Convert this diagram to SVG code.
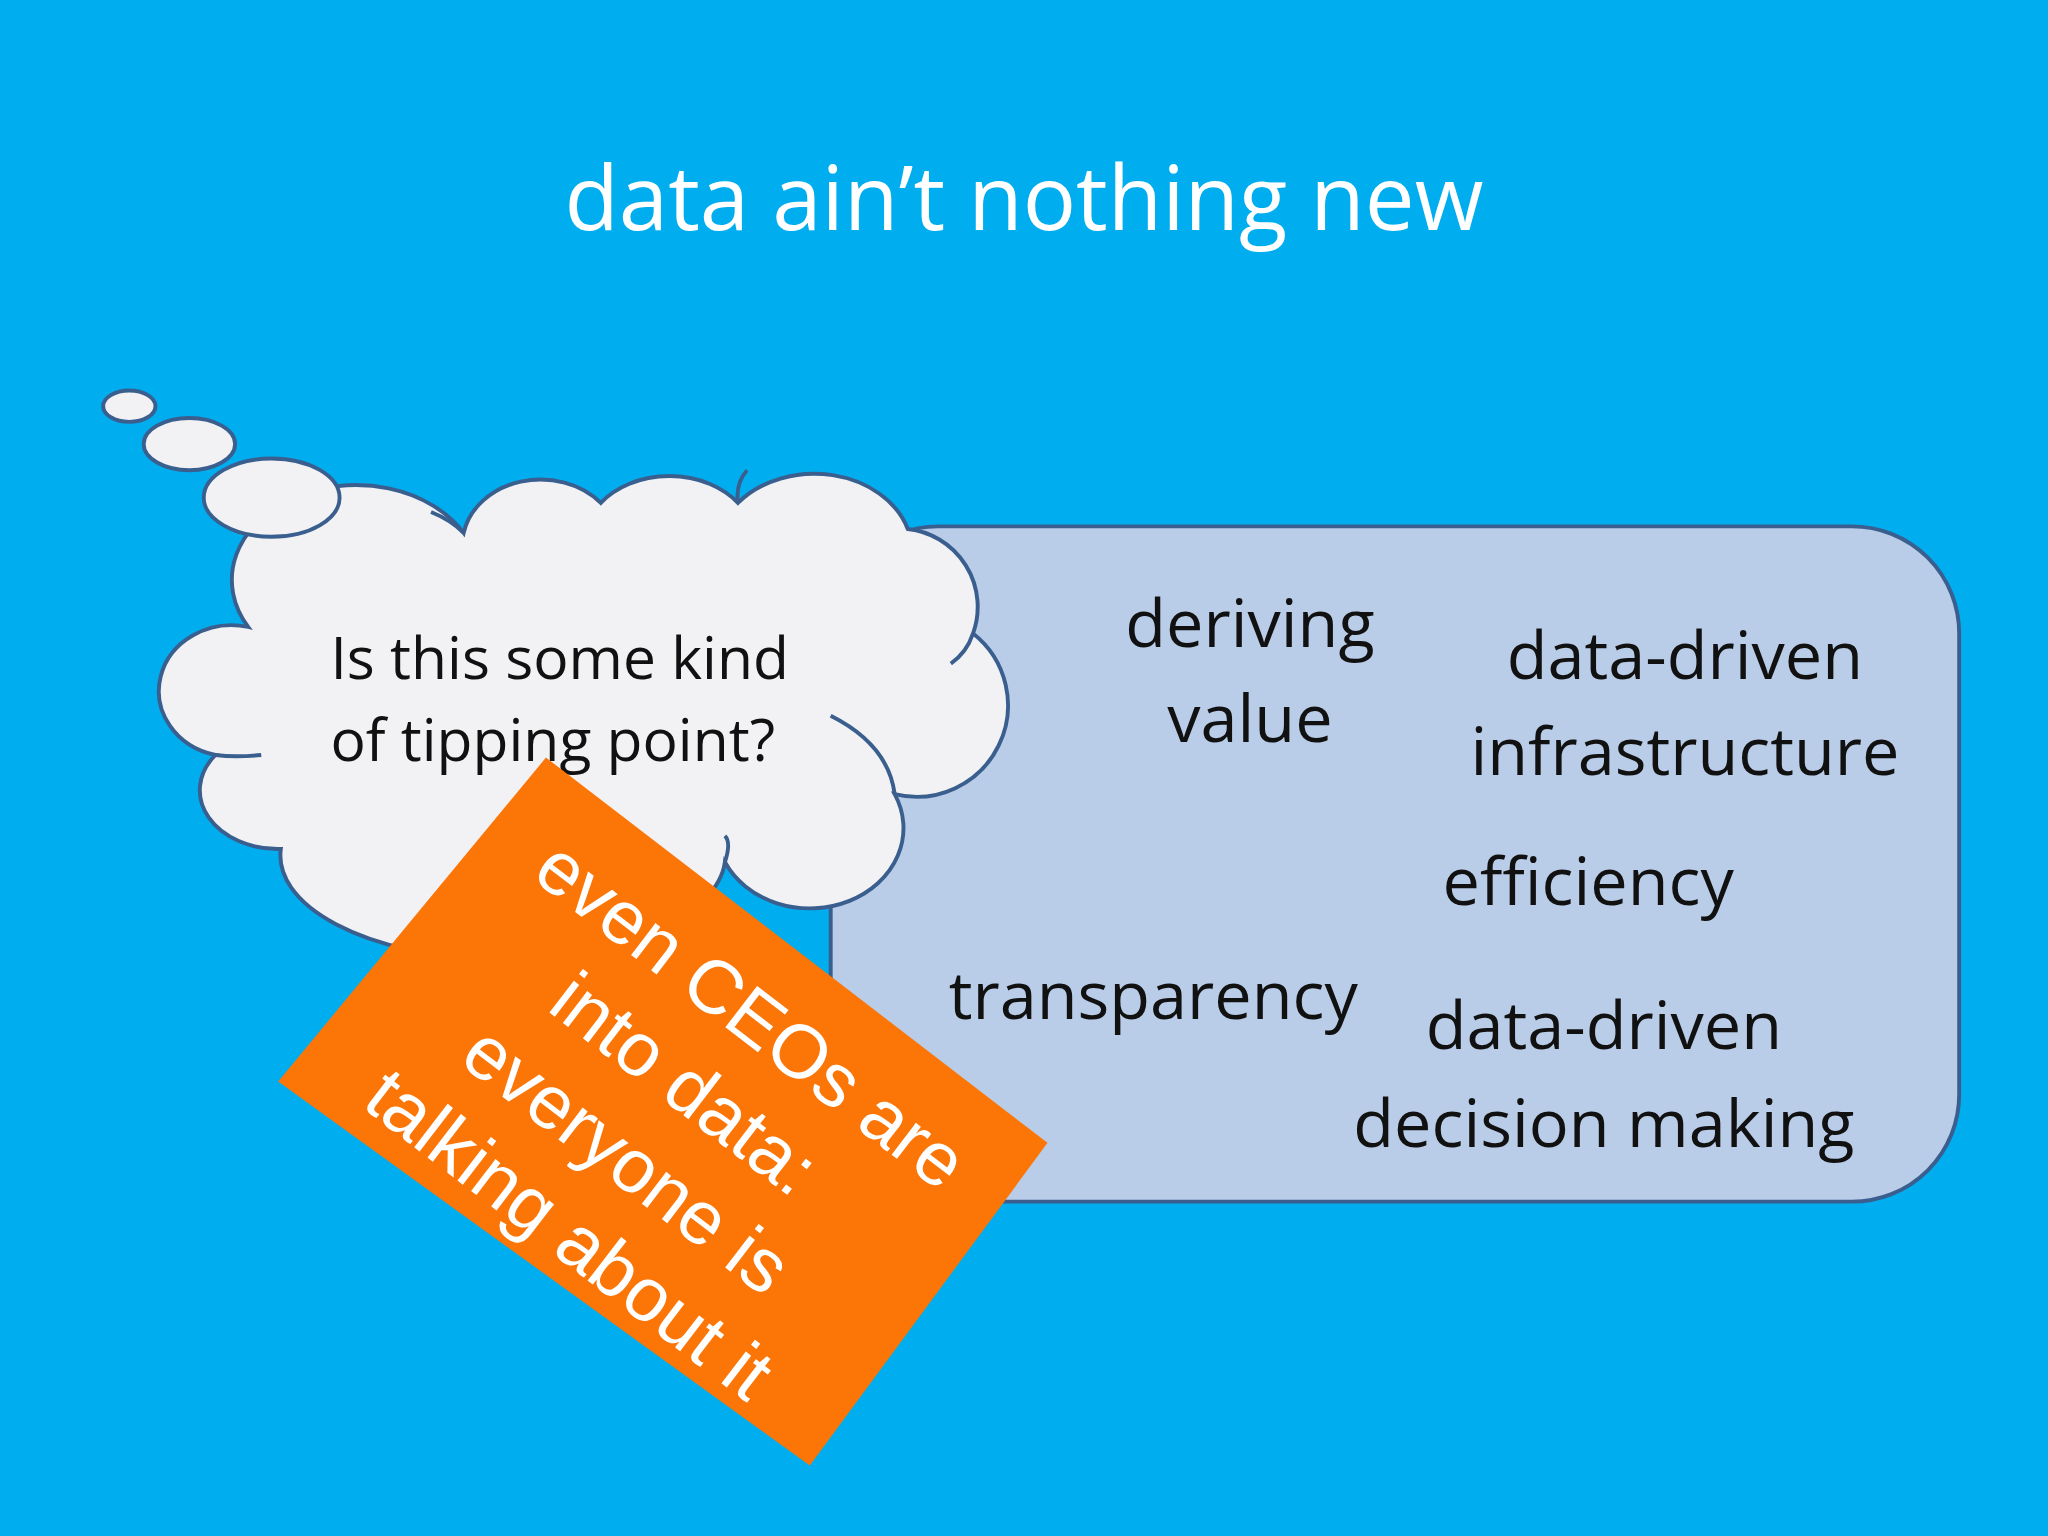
<svg xmlns="http://www.w3.org/2000/svg" width="2048" height="1536" viewBox="0 0 2048 1536">
<style>
.t{font-family:"Open Sans","Noto Sans",sans-serif;fill:#111;}
.o{font-family:"Liberation Sans",Arial,sans-serif;fill:#fff;font-size:58px;text-anchor:middle;}
.c{fill:#f2f2f4;stroke:#3a5f8f;stroke-width:3;}
</style>
<rect width="2048" height="1536" fill="#00aeef"/>
<g transform="scale(1.30612)">
<text x="784" y="176" class="t" style="fill:#fff;font-size:68px" text-anchor="middle">data ain’t nothing new</text>
<g id="box">
<rect x="636" y="403" width="864" height="517" rx="82" fill="#b9cde8" stroke="#3a5f8f" stroke-width="3"/>
<g class="t" style="font-size:51px" text-anchor="middle">
<text x="957" y="495">deriving</text><text x="957" y="568">value</text>
<text x="1290" y="520">data-driven</text><text x="1290" y="593">infrastructure</text>
<text x="1216" y="693">efficiency</text>
<text x="883" y="780">transparency</text>
<text x="1228" y="803">data-driven</text><text x="1228" y="878">decision making</text>
</g>
</g>
<g id="cloud">
<path class="c" d="M165,578 A50,45 0 0,1 190,480 A85,65 0 0,1 355,408 A60,50 0 0,1 460,385 A65,50 0 0,1 565,385 A75,60 0 0,1 695,405 A60,60 0 0,1 745,485 A70,70 0 0,1 685,608 A70,60 0 0,1 555,660 A150,70 0 0,1 215,650 A60,45 0 0,1 165,578 Z"/>
<path d="M745,485 Q740,500 728,508 M636,548 Q680,570 685,608 M165,578 Q180,580 200,578 M555,660 Q560,645 555,640 M355,408 Q345,398 330,392 M565,385 Q563,370 572,360" fill="none" stroke="#3a5f8f" stroke-width="3"/>
<ellipse class="c" cx="99" cy="311" rx="20" ry="12"/>
<ellipse class="c" cx="145" cy="340" rx="35" ry="20"/>
<ellipse class="c" cx="208" cy="381" rx="52" ry="30"/>
<text x="253" y="520" class="t" style="font-size:45px">Is this some kind</text>
<text x="253" y="583" class="t" style="font-size:45px">of tipping point?</text>
</g>
<g id="note">
<polygon points="418,580 802,875 620,1122 213,828" fill="#fb7507"/>
<g transform="translate(508,851) rotate(37.5)">
<text class="o" y="-80" x="8">even CEOs are</text>
<text class="o" y="-7">into data:</text>
<text class="o" y="66">everyone is</text>
<text class="o" y="138">talking about it</text>
</g>
</g>
</g>
</svg>
